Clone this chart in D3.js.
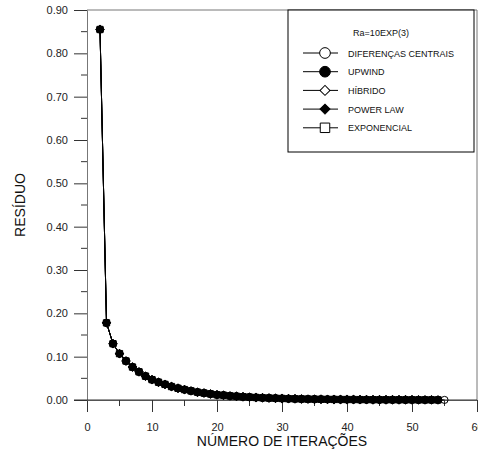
<!DOCTYPE html>
<html>
<head>
<meta charset="utf-8">
<script src="https://cdn.jsdelivr.net/npm/d3@7"></script>
<style>
  body { margin: 0; background: #fff; }
  svg { display: block; font-family: Arial, "Liberation Sans", sans-serif; }
</style>
</head>
<body>
<svg id="chart" width="478" height="455"></svg>
<script>
var iteracoes = [2, 3, 4, 5, 6, 7, 8, 9, 10, 11, 12, 13, 14, 15, 16, 17, 18, 19, 20,
  21, 22, 23, 24, 25, 26, 27, 28, 29, 30, 31, 32, 33, 34, 35, 36, 37, 38, 39, 40,
  41, 42, 43, 44, 45, 46, 47, 48, 49, 50, 51, 52, 53, 54, 55];

var residuo = [0.855, 0.178, 0.130, 0.107, 0.090, 0.076, 0.065, 0.055, 0.047, 0.041,
  0.036, 0.031, 0.027, 0.024, 0.021, 0.018, 0.016, 0.014, 0.012, 0.011,
  0.0095, 0.0085, 0.0075, 0.0066, 0.0058, 0.0051, 0.0045, 0.0040, 0.0035, 0.0031,
  0.0027, 0.0024, 0.0021, 0.0019, 0.0017, 0.0015, 0.0013, 0.0012, 0.0011, 0.0010,
  0.0009, 0.0008, 0.0007, 0.0006, 0.0006, 0.0005, 0.0005, 0.0004, 0.0004, 0.0003,
  0.0003, 0.0003, 0.0002, 0.0002];

var esquemas = ['DIFERENÇAS CENTRAIS', 'UPWIND', 'HÍBRIDO', 'POWER LAW', 'EXPONENCIAL'];
var ultimaIteracao = [55, 54, 54, 54, 54];

var xTicks = [0, 10, 20, 30, 40, 50, 60];
var yTicks = [0, 0.1, 0.2, 0.3, 0.4, 0.5, 0.6, 0.7, 0.8, 0.9];
var tituloLegenda = 'Ra=10EXP(3)';

var margin = {left: 87, top: 10, right: 1, bottom: 55};
var width = 478 - margin.left - margin.right,
    height = 455 - margin.top - margin.bottom;

var svg = d3.select('#chart');
var g = svg.append('g').attr('transform', 'translate(' + margin.left + ',' + margin.top + ')');

var x = d3.scaleLinear().domain([0, 60]).range([0, width]);
var y = d3.scaleLinear().domain([0, 0.9]).range([height, 0]);

// estilo de cada esquema: simbolo e preenchimento (abertos = sem preenchimento)
var simbolos = [
  {type: d3.symbolCircle, fill: false, rot: 0},
  {type: d3.symbolCircle, fill: true, rot: 0},
  {type: d3.symbolSquare, fill: false, rot: 45},
  {type: d3.symbolSquare, fill: true, rot: 45},
  {type: d3.symbolSquare, fill: false, rot: 0}
];

// minor ticks
var xMinor = d3.range(5, 60, 10);
var yMinor = d3.range(0.05, 0.9, 0.1);

// frame (top and right)
g.append('line').attr('x1', 0).attr('x2', width).attr('y1', 0).attr('y2', 0)
  .attr('stroke', '#777');
g.append('line').attr('x1', width).attr('x2', width).attr('y1', 0).attr('y2', height)
  .attr('stroke', '#777');

var xAxis = g.append('g')
  .attr('transform', 'translate(0,' + height + ')')
  .call(d3.axisBottom(x).tickValues(xTicks).tickSize(12).tickPadding(11).tickFormat(d3.format('d')));
xAxis.append('g').selectAll('line').data(xMinor).enter().append('line')
  .attr('x1', x).attr('x2', x).attr('y1', 0).attr('y2', 6).attr('stroke', '#333');

var yAxis = g.append('g')
  .call(d3.axisLeft(y).tickValues(yTicks).tickSize(13).tickPadding(6).tickFormat(d3.format('.2f')));
yAxis.append('g').selectAll('line').data(yMinor).enter().append('line')
  .attr('x1', -6).attr('x2', 0).attr('y1', y).attr('y2', y).attr('stroke', '#333');

[xAxis, yAxis].forEach(function(a){
  a.select('.domain').attr('stroke', '#777');
  a.selectAll('.tick line').attr('stroke', '#333');
  a.selectAll('text').attr('font-size', 11).attr('fill', '#222')
    .attr('font-family', 'Arial, "Liberation Sans", sans-serif');
});
// the x axis line reaches the 0.00 tick
g.append('line').attr('x1', -13).attr('x2', width).attr('y1', height).attr('y2', height)
  .attr('stroke', '#333');

svg.append('text')
  .attr('x', margin.left + width / 2).attr('y', 446)
  .attr('text-anchor', 'middle').attr('font-size', 14).attr('fill', '#111')
  .text('NÚMERO DE ITERAÇÕES');

svg.append('text')
  .attr('transform', 'translate(25,' + (margin.top + height / 2) + ') rotate(-90)')
  .attr('text-anchor', 'middle').attr('font-size', 14).attr('fill', '#111')
  .text('RESÍDUO');

var line = d3.line()
  .x(function(d){ return x(d.x); })
  .y(function(d){ return y(d.y); });

esquemas.forEach(function(nome, i){
  var pts = iteracoes.map(function(it, k){ return {x: it, y: residuo[k]}; })
    .filter(function(d){ return d.x <= ultimaIteracao[i]; });
  var s = simbolos[i];

  g.append('path').datum(pts)
    .attr('d', line).attr('fill', 'none').attr('stroke', '#000').attr('stroke-width', 1);

  g.append('g').selectAll('path').data(pts).enter().append('path')
    .attr('transform', function(d){
      return 'translate(' + x(d.x) + ',' + y(d.y) + ') rotate(' + s.rot + ')';
    })
    .attr('d', d3.symbol().type(s.type).size(s.rot ? 32 : 40))
    .attr('fill', s.fill ? '#000' : 'none').attr('stroke', '#000').attr('stroke-width', 1);
});

// legend
var leg = svg.append('g').attr('transform', 'translate(288,10)');
leg.append('rect').attr('width', 186).attr('height', 142)
  .attr('fill', '#fff').attr('stroke', '#000');
leg.append('text').attr('x', 93).attr('y', 26).attr('text-anchor', 'middle')
  .attr('font-size', 9).attr('fill', '#111').text(tituloLegenda);

var items = leg.selectAll('g.item').data(esquemas).enter().append('g')
  .attr('class', 'item')
  .attr('transform', function(d, i){ return 'translate(0,' + (43 + i * 18.7) + ')'; });
items.append('line').attr('x1', 15).attr('x2', 50).attr('stroke', '#000');
items.append('path')
  .attr('transform', function(d, i){ return 'translate(37,0) rotate(' + simbolos[i].rot + ')'; })
  .attr('d', function(d, i){
    return d3.symbol().type(simbolos[i].type).size(simbolos[i].rot ? 50 : 90)();
  })
  .attr('fill', function(d, i){ return simbolos[i].fill ? '#000' : '#fff'; })
  .attr('stroke', '#000');
items.append('text').attr('x', 60).attr('y', 3.5)
  .attr('font-size', 9).attr('fill', '#111').text(function(d){ return d; });
</script>
</body>
</html>
